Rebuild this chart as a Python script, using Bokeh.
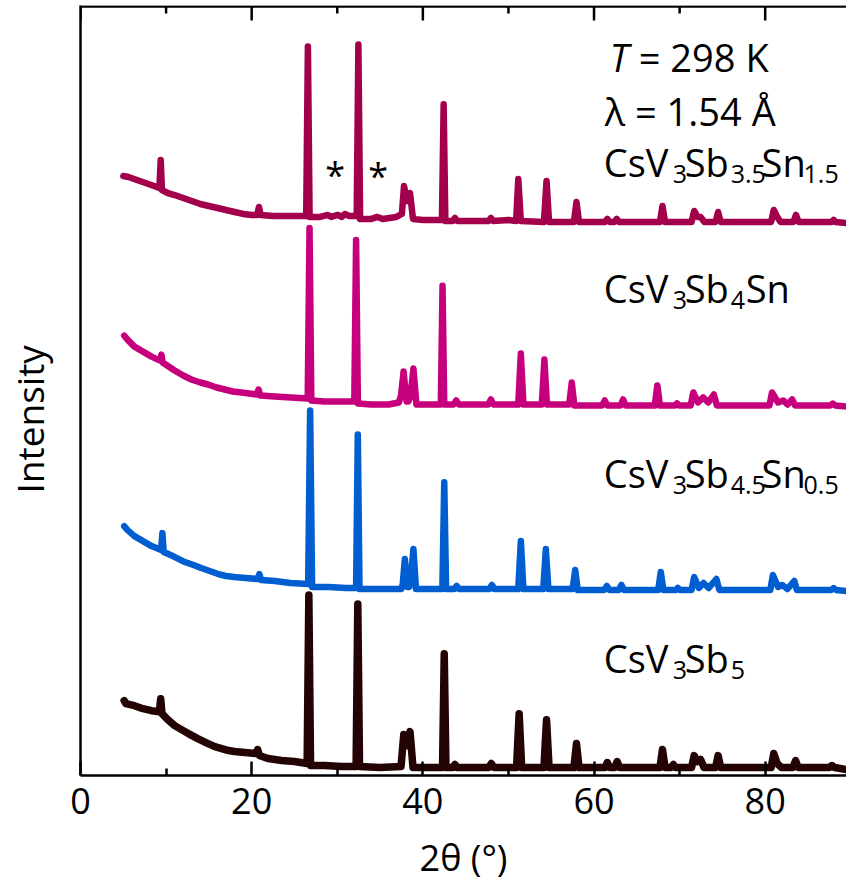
from bokeh.plotting import figure
from bokeh.models import FixedTicker, Label, Range1d
from bokeh.embed import file_html
from bokeh.resources import INLINE

FONT = "Open Sans"

# ---- powder XRD patterns (2theta in degrees, stacked intensity in a.u.) ----
sn15_theta = [5.0, 5.6, 6.6, 7.6, 8.6, 9.22, 9.37, 9.52, 10.2, 11.0, 12.0, 13.0, 14.0, 15.0, 16.0,
              17.0, 18.0, 19.0, 20.0, 20.65, 20.85, 21.05, 22.5, 24.0, 26.37, 26.57, 26.77, 28.0,
              28.9, 29.3, 30.07, 30.5, 30.9, 31.4, 32.27, 32.47, 32.67, 34.0, 34.7, 35.3, 36.9,
              37.55, 37.8, 38.15, 38.5, 38.85, 40.0, 42.23, 42.43, 42.63, 43.5, 43.75, 44.0, 47.7,
              47.95, 48.2, 50.0, 50.9, 51.15, 51.45, 54.15, 54.45, 54.75, 57.65, 57.95, 58.25,
              61.3, 61.55, 61.8, 62.4, 62.65, 62.9, 67.7, 68.0, 68.3, 71.4, 71.7, 72.1, 72.45,
              72.9, 74.2, 74.5, 74.8, 80.7, 81.0, 81.4, 81.8, 83.3, 83.6, 83.9, 87.8, 88.0, 88.2,
              89.5]
sn15_counts = [601, 600, 597, 594, 591, 589, 617, 587, 584, 582, 579, 576, 573, 571, 569,
               567, 565, 563, 562, 562, 570, 562, 561, 561, 561, 731, 560, 560,
               562, 560, 562, 560, 563, 561, 561, 733, 558, 558, 560, 558, 560,
               563, 591, 576, 584, 558, 557, 557, 673, 556, 556, 559, 556, 556,
               559, 556, 557, 556, 598, 556, 555, 596, 555, 555, 575, 555,
               555, 558, 555, 555, 558, 555, 555, 571, 555, 555, 566, 560, 560,
               555, 555, 565, 555, 555, 567, 560, 555, 555, 562, 555, 555, 557, 555,
               554]

sn10_theta = [5.1, 5.6, 6.3, 7.3, 8.3, 9.3, 9.45, 9.6, 10.3, 11.0, 12.0, 12.95, 14.0, 14.9, 15.9,
              16.85, 17.8, 18.8, 19.7, 20.6, 20.8, 21.0, 22.7, 24.6, 26.55, 26.76, 26.97, 28.5,
              30.0, 31.99, 32.2, 32.41, 34.0, 36.0, 37.2, 37.45, 37.75, 38.1, 38.3, 38.55, 38.9,
              39.25, 40.0, 42.1, 42.3, 42.5, 43.6, 43.9, 44.2, 47.65, 47.95, 48.25, 51.15, 51.45,
              51.75, 53.9, 54.2, 54.5, 57.1, 57.4, 57.7, 60.95, 61.25, 61.55, 63.1, 63.4, 63.7,
              67.1, 67.4, 67.7, 69.5, 69.7, 69.9, 71.3, 71.6, 72.15, 72.77, 73.35, 74.0, 74.35,
              80.5, 80.8, 81.5, 82.1, 82.6, 83.15, 83.5, 87.6, 87.9, 88.2, 89.5]
sn10_counts = [441, 436, 430, 425, 420, 416, 422, 414, 410, 406, 401, 397, 394, 392, 389,
               387, 385, 384, 383, 382, 387, 381, 380, 379, 378, 549, 376, 375,
               375, 375, 537, 373, 372, 372, 374, 381, 405, 375, 375, 380, 408,
               372, 372, 372, 491, 372, 372, 376, 372, 372, 377, 372, 372, 423,
               372, 372, 417, 372, 372, 394, 371, 371, 376, 371, 371, 377, 371,
               371, 391, 371, 371, 373, 371, 371, 384, 374, 379, 374, 382, 371,
               371, 384, 374, 376, 372, 377, 371, 371, 373, 371, 370]

sn05_theta = [5.1, 5.5, 6.3, 7.3, 8.3, 9.42, 9.57, 9.72, 10.8, 11.5, 12.2, 13.2, 14.1, 15.1, 16.1,
              17.0, 18.0, 19.3, 20.7, 20.9, 21.1, 22.7, 24.5, 26.6, 26.83, 27.06, 29.0, 31.0,
              32.2, 32.4, 32.6, 35.0, 37.5, 37.65, 37.9, 38.2, 38.4, 38.55, 38.9, 39.2, 42.28,
              42.5, 42.72, 43.7, 43.95, 44.2, 47.8, 48.07, 48.35, 51.15, 51.45, 51.75, 54.07,
              54.37, 54.67, 57.5, 57.8, 58.1, 61.2, 61.5, 61.8, 62.9, 63.2, 63.5, 67.5, 67.8,
              68.1, 69.6, 69.8, 70.0, 71.4, 71.7, 72.25, 72.8, 73.4, 74.3, 74.65, 80.6, 80.9,
              81.5, 82.0, 82.6, 83.4, 83.7, 87.7, 88.0, 88.3, 89.5]
sn05_counts = [250, 246, 240, 235, 230, 226, 243, 224, 220, 217, 214, 211, 208, 205, 202,
               200, 199, 198, 197, 202, 196, 195, 193, 192, 366, 189, 189, 188,
               188, 342, 187, 187, 187, 192, 217, 189, 189, 192, 227, 187, 187,
               294, 187, 187, 190, 187, 187, 191, 187, 187, 235, 187, 187,
               227, 187, 187, 206, 186, 186, 190, 186, 186, 191, 186, 186, 204,
               186, 186, 188, 186, 186, 199, 188, 193, 188, 197, 186, 186, 201,
               189, 191, 187, 195, 186, 186, 188, 186, 185]

sb5_theta = [5.1, 5.3, 6.3, 7.3, 8.3, 9.22, 9.37, 9.52, 10.2, 11.0, 11.8, 12.6, 13.7, 14.9, 15.7,
             16.5, 17.3, 18.0, 19.2, 20.5, 20.7, 20.9, 21.9, 23.5, 25.0, 26.48, 26.68, 26.88,
             28.5, 30.5, 32.2, 32.4, 32.6, 35.0, 37.45, 37.77, 38.15, 38.5, 38.85, 42.3, 42.5,
             42.7, 43.5, 43.75, 44.0, 47.7, 48.0, 48.3, 50.95, 51.25, 51.55, 54.15, 54.45, 54.75,
             57.65, 57.95, 58.25, 61.3, 61.55, 61.85, 62.45, 62.7, 63.0, 67.7, 68.0, 68.3, 69.0,
             69.27, 69.5, 71.4, 71.7, 72.05, 72.45, 72.85, 74.2, 74.5, 74.8, 80.7, 81.0, 81.4,
             81.9, 83.25, 83.55, 83.85, 87.5, 87.8, 88.1, 89.5]
sb5_counts = [75, 72, 70, 67, 65, 64, 77, 62, 56, 50, 46, 42, 37, 32, 29,
              27, 25, 24, 23, 22, 26, 20, 17, 15, 14, 12, 181, 10,
              10, 9, 9, 172, 9, 8, 9, 41, 30, 44, 8, 8, 122,
              8, 8, 11, 8, 8, 12, 8, 8, 62, 8, 8, 56, 8,
              8, 32, 8, 8, 13, 8, 8, 14, 8, 8, 26, 8, 8,
              11, 8, 8, 20, 14, 16, 8, 8, 20, 8, 8, 22, 12,
              8, 8, 15, 8, 8, 10, 8, 6]

series_theta = [sn15_theta, sn10_theta, sn05_theta, sb5_theta]
series_counts = [sn15_counts, sn10_counts, sn05_counts, sb5_counts]
series_colors = ["#A3004B", "#C6007C", "#005ED0", "#230303"]
series_widths = [6.5, 6.5, 6.5, 7.5]

x_ticks = [0, 20, 40, 60, 80]
x_minor = [10, 30, 50, 70]
x_start, x_end = 0, 89.5
y_start, y_end = 0, 772
y_top_rule = 771          # level of the upper frame rule
MAJOR_IN, MINOR_IN = 14, 7  # inward tick lengths (1 intensity unit = 1 px here)

for t, c in zip(series_theta, series_counts):
    assert len(t) == len(c)

p = figure(width=846, height=884, title=None,
           x_range=Range1d(x_start, x_end), y_range=Range1d(y_start, y_end),
           output_backend="svg", toolbar_location=None,
           min_border_left=79, min_border_right=0, min_border_top=5, min_border_bottom=107)
p.outline_line_color = None
p.xgrid.visible = False
p.ygrid.visible = False
p.background_fill_color = "white"
p.border_fill_color = "white"

for t, c, col, w in zip(series_theta, series_counts, series_colors, series_widths):
    p.line(t, c, line_color=col, line_width=w, line_join="round", line_cap="round")

AXIS_W = 2.5

# upper frame rule with inward ticks
p.line([x_start, x_end], [y_top_rule, y_top_rule], line_color="black", line_width=AXIS_W)
p.segment(x0=x_ticks, y0=[y_top_rule] * len(x_ticks), x1=x_ticks,
          y1=[y_top_rule - MAJOR_IN] * len(x_ticks), line_color="black", line_width=AXIS_W)
p.segment(x0=x_minor, y0=[y_top_rule] * len(x_minor), x1=x_minor,
          y1=[y_top_rule - MINOR_IN] * len(x_minor), line_color="black", line_width=AXIS_W)

xb = p.xaxis[0]
xb.ticker = FixedTicker(ticks=x_ticks, minor_ticks=x_minor)
xb.axis_line_width = AXIS_W
xb.axis_line_color = "black"
xb.major_tick_line_width = AXIS_W
xb.minor_tick_line_width = AXIS_W
xb.major_tick_in = MAJOR_IN
xb.major_tick_out = 0
xb.minor_tick_in = MINOR_IN
xb.minor_tick_out = 0
xb.major_label_text_font = FONT
xb.major_label_text_font_size = "36px"
xb.major_label_text_color = "black"
xb.major_label_standoff = 12
xb.axis_label = "2θ (°)"
xb.axis_label_text_font = FONT
xb.axis_label_text_font_size = "36px"
xb.axis_label_text_font_style = "normal"
xb.axis_label_text_color = "black"
xb.axis_label_standoff = 16

ya = p.yaxis[0]
ya.ticker = FixedTicker(ticks=[], minor_ticks=[])
ya.major_label_text_font_size = "1px"
ya.major_label_text_color = None
ya.major_label_standoff = 0
ya.major_tick_out = 0
ya.major_tick_in = 0
ya.minor_tick_out = 0
ya.minor_tick_in = 0
ya.axis_line_width = AXIS_W
ya.axis_line_color = "black"
# trailing no-break spaces push the title a little below the frame middle
ya.axis_label = "Intensity" + "\u00a0" * 6
ya.axis_label_text_font = FONT
ya.axis_label_text_font_size = "37px"
ya.axis_label_text_font_style = "normal"
ya.axis_label_text_color = "black"
ya.axis_label_standoff = 26

# ---- annotations, placed in pixel terms of the plot frame ----
FRAME_L, FRAME_R, FRAME_T, FRAME_B = 79, 846, 5, 777


def X(px):
    return x_start + (px - FRAME_L) * (x_end - x_start) / (FRAME_R - FRAME_L)


def Y(py):
    return y_start + (FRAME_B - py) * (y_end - y_start) / (FRAME_B - FRAME_T)


MAIN = "38px"
SUB = "25px"


def put(text, px, py, size=MAIN, style="normal", align="left"):
    p.add_layout(Label(x=X(px), y=Y(py), text=text, text_font=FONT, text_font_size=size,
                       text_font_style=style, text_color="black", text_align=align,
                       text_baseline="alphabetic"))


def formula(pieces, px0, base):
    # pieces: (text, x-offset from the first letter, is_subscript)
    for txt, dx, is_sub in pieces:
        if is_sub:
            put(txt, px0 + dx, base + 12, size=SUB)
        else:
            put(txt, px0 + dx, base)


put("T", 609, 57, style="italic")
put("= 298 K", 638, 57)
put("λ = 1.54 Å", 604, 111)

formula([("CsV", 0, False), ("3", 69, True), ("Sb", 81, False), ("3.5", 127, True),
         ("Sn", 158, False), ("1.5", 200, True)], 603, 162)
formula([("CsV", 0, False), ("3", 69, True), ("Sb", 81, False), ("4", 127, True),
         ("Sn", 142, False)], 603, 288)
formula([("CsV", 0, False), ("3", 69, True), ("Sb", 81, False), ("4.5", 127, True),
         ("Sn", 158, False), ("0.5", 200, True)], 603, 474)
formula([("CsV", 0, False), ("3", 69, True), ("Sb", 81, False), ("5", 127, True)], 603, 659)

put("*", 334, 174, size="36px", align="center")
put("*", 377, 175, size="36px", align="center")

open("out.html", "w").write(file_html(p, INLINE))
